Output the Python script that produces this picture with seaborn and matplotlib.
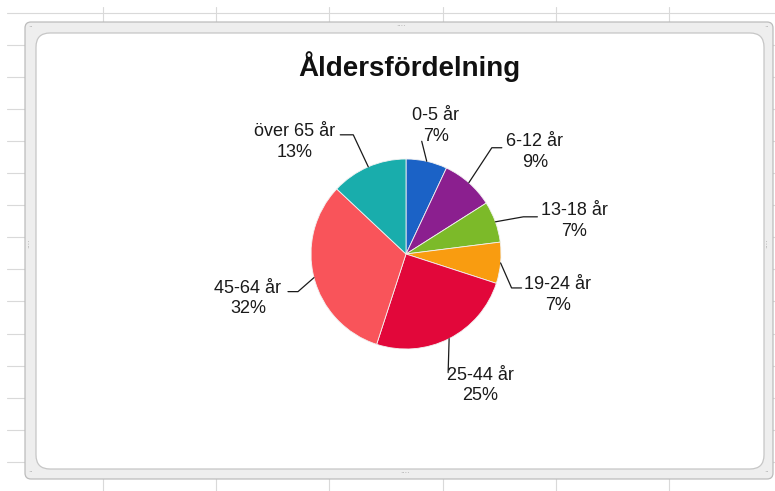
import numpy as np
import matplotlib
matplotlib.use("Agg")
import matplotlib.pyplot as plt
from matplotlib.patches import FancyBboxPatch
import seaborn as sns

# Data
age_groups = ["0-5 år", "6-12 år", "13-18 år", "19-24 år", "25-44 år", "45-64 år", "över 65 år"]
shares = [7, 9, 7, 7, 25, 32, 13]
title = "Åldersfördelning"

# Slice colours (Excel default-ish)
slice_colors = ["#1b62c6", "#8b1f8f", "#7cba29", "#f99c10", "#e2073a", "#f9545a", "#19adac"]

# Label layout, in pixels relative to the slice's outer mid point (x right, y down)
# (text centre, leader knee, leader end)
label_layout = [
    ((9, -35), (-5, -20), (-5, -20)),
    ((66, -31), (23, -35), (33, -35)),
    ((79, -1), (28, -5), (42, -5)),
    ((57, 32), (11, 25), (21, 25)),
    ((31, 47), (-1, 34), (-1, 34)),
    ((-66, 21), (-16, 14), (-26, 14)),
    ((-74, -25), (-15, -32), (-28, -32)),
]

W, H = 775, 491
CX, CY, R = 406, 254, 95  # pie centre and radius in pixels

sns.set_theme(style="white")
plt.rcParams['font.family'] = ['Liberation Sans', 'DejaVu Sans']

fig = plt.figure(figsize=(W / 100, H / 100), dpi=100)
fig.patch.set_facecolor("white")

# --- spreadsheet background + chart frame ---
bg = fig.add_axes([0, 0, 1, 1])
bg.set_xlim(0, W)
bg.set_ylim(H, 0)
bg.axis("off")
for y in np.arange(12.5, H, 32.1):
    bg.plot([7, W], [y, y], color="#d9d9d9", lw=0.8, zorder=0)
for x in np.arange(103, W, 113.2):
    bg.plot([x, x], [7, H], color="#d9d9d9", lw=0.8, zorder=0)

outer = FancyBboxPatch((25, 22), 748, 457, boxstyle="round,pad=0,rounding_size=6",
                       facecolor="#eeeeee", edgecolor="#bcbcbc", lw=0.9, zorder=1)
inner = FancyBboxPatch((36, 33), 728, 436, boxstyle="round,pad=0,rounding_size=14",
                       facecolor="white", edgecolor="#c6c6c6", lw=0.9, zorder=2)
bg.add_patch(outer)
bg.add_patch(inner)

# little resize handles
for hx, hy, rot in [(401, 27, 0), (405, 474, 0), (30, 243, 90), (768, 243, 90)]:
    bg.text(hx, hy, "····", fontsize=5, color="#9a9a9a", ha="center", va="center",
            rotation=rot, zorder=3)
for hx, hy in [(31, 28), (767, 28), (31, 473), (767, 473)]:
    bg.text(hx, hy, "··", fontsize=5, color="#9a9a9a", ha="center", va="center", zorder=3)

# --- pie ---
ax = fig.add_axes([0, 0, 1, 1])
ax.patch.set_alpha(0)
wedges, _ = ax.pie(shares, colors=sns.color_palette(slice_colors), startangle=90,
                   counterclock=False, radius=1,
                   wedgeprops=dict(edgecolor="#f2f2f2", linewidth=0.6))
ax.set_xlim(-CX / R, (W - CX) / R)
ax.set_ylim(-(H - CY) / R, CY / R)
ax.set_aspect("auto")
ax.axis("off")

for w, name, pct, (txt, knee, end) in zip(wedges, age_groups, shares, label_layout):
    ang = np.deg2rad((w.theta1 + w.theta2) / 2)
    ex, ey = np.cos(ang), np.sin(ang)
    kx, ky = ex + knee[0] / R, ey - knee[1] / R
    lx, ly = ex + end[0] / R, ey - end[1] / R
    ax.plot([ex, kx, lx], [ey, ky, ly], color="#1a1a1a", lw=0.9, zorder=4)
    ax.text(ex + txt[0] / R, ey - txt[1] / R, f"{name}\n{pct}%", ha="center", va="center",
            multialignment="center", fontsize=13, color="#1a1a1a", linespacing=1.28)

fig.text(409 / W, 1 - 67 / H, title, ha="center", va="center", fontsize=20,
         fontweight="bold", color="#111111")

fig.savefig("out.png", dpi=100)
